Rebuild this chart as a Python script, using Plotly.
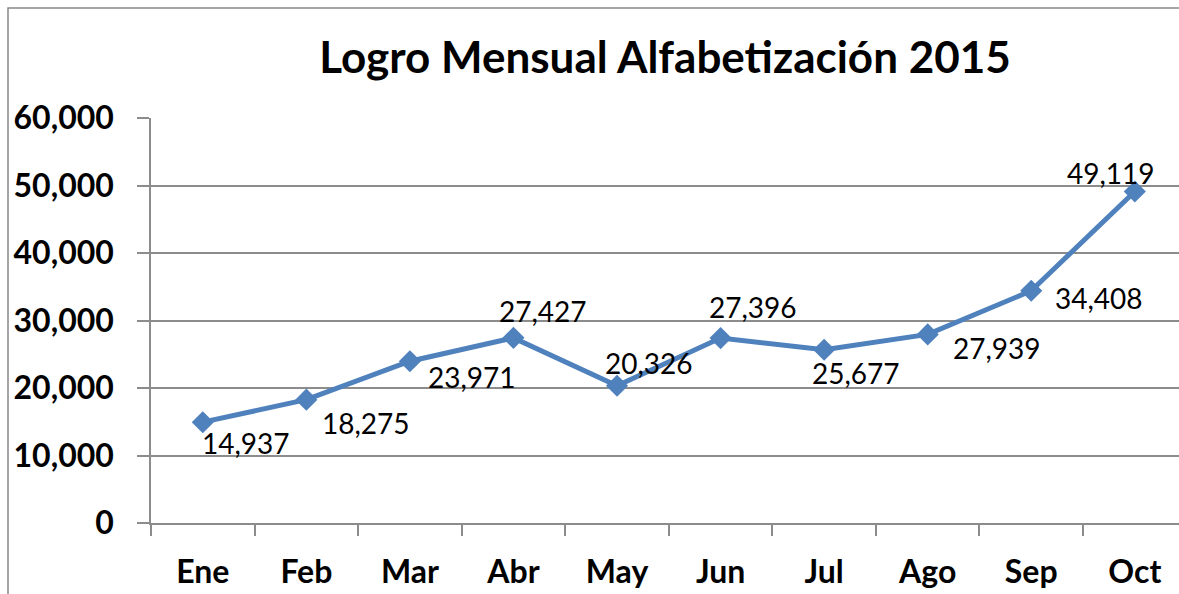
import plotly.graph_objects as go

months = ["Ene", "Feb", "Mar", "Abr", "May", "Jun", "Jul", "Ago", "Sep", "Oct"]
values = [14937, 18275, 23971, 27427, 20326, 27396, 25677, 27939, 34408, 49119]
y_ticks = [0, 10000, 20000, 30000, 40000, 50000, 60000]
title_text = "Logro Mensual Alfabetización 2015"

# label offsets in pixels (dx right, dy down) relative to each marker
label_dx = [43, 60, 62, 30, 32, 32, 32, 69, 68, -24]
label_dy = [21, 23, 16, -27, -23, -31, 23, 14, 7, -18]

W, H = 1179, 594
ML, MR, MT, MB = 151, 0, 118, 71
plot_w = W - ML - MR
plot_h = H - MT - MB
cat_w = 103.56

LINE = "#4F81BD"
GRID = "#8c8c8c"
FONT = "Lato"

fig = go.Figure()
fig.add_trace(go.Scatter(
    x=months, y=values, mode="lines+markers",
    line=dict(color=LINE, width=5),
    marker=dict(symbol="diamond", size=17, color=LINE),
    hoverinfo="skip", showlegend=False,
))

for m, v, dx, dy in zip(months, values, label_dx, label_dy):
    fig.add_annotation(
        x=m, y=v, xref="x", yref="y", text=f"{v:,}", showarrow=False,
        xanchor="center", yanchor="middle", xshift=dx, yshift=-dy,
        font=dict(family=FONT, size=28, color="#000000"),
    )

# chart frame (top and left edges visible)
px = lambda p: (p - ML) / plot_w
py = lambda p: 1 + (MT - p) / plot_h
fig.add_shape(type="rect", xref="paper", yref="paper",
              x0=px(8), x1=px(W + 20), y0=py(8), y1=py(H + 20),
              line=dict(color="#888888", width=1.5), fillcolor="rgba(0,0,0,0)", layer="below")

fig.update_layout(
    width=W, height=H,
    margin=dict(l=ML, r=MR, t=MT, b=MB),
    paper_bgcolor="white", plot_bgcolor="white",
    title=dict(text=title_text, x=0.5, xref="paper", xanchor="center",
               y=1 - 58 / H, yref="container", yanchor="middle",
               font=dict(family=FONT, size=44, color="#000000", weight="bold")),
    font=dict(family=FONT, color="#000000"),
)

fig.update_xaxes(
    type="category", range=[-0.5, -0.5 + plot_w / cat_w],
    showgrid=False, showline=True, linecolor=GRID, linewidth=1.5,
    ticks="outside", tickson="boundaries", ticklen=11, tickcolor=GRID, tickwidth=1.5,
    tickfont=dict(family=FONT, size=32, color="#000000", weight="bold"),
    ticklabelstandoff=20, zeroline=False,
)
fig.update_yaxes(
    range=[0, 60000], tickvals=y_ticks, tickformat=",",
    showgrid=True, gridcolor=GRID, gridwidth=1.5,
    showline=True, linecolor=GRID, linewidth=1.5,
    ticks="outside", ticklen=12, tickcolor=GRID, tickwidth=1.5,
    tickfont=dict(family=FONT, size=32, color="#000000", weight="bold"),
    ticklabelstandoff=17, zeroline=False,
)

fig.write_html("out.html", config={"displayModeBar": False},
               post_script="document.body.style.margin='0';")
